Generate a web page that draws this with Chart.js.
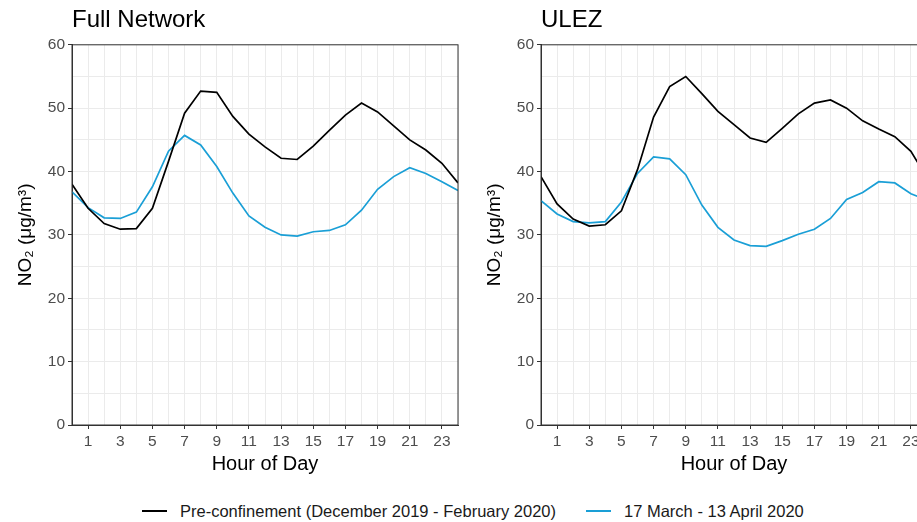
<!DOCTYPE html>
<html>
<head>
<meta charset="utf-8">
<script src="https://cdn.jsdelivr.net/npm/chart.js@4"></script>
<style>
  html, body { margin: 0; padding: 0; background: #fff; overflow: hidden; width: 917px; height: 522px; }
  .panel { position: absolute; top: 0; width: 470px; height: 480px; }
  #legend { position: absolute; left: 142px; top: 500px; height: 22px; display: flex; align-items: center;
            font-family: 'Liberation Sans', Arial, sans-serif; font-size: 16.5px; color: #1a1a1a; white-space: nowrap; }
  .key { display: inline-block; width: 25px; height: 2px; margin-right: 13px; }
</style>
</head>
<body>
<div class="panel" style="left:0"><canvas id="fullChart"></canvas></div>
<div class="panel" style="left:469px"><canvas id="ulezChart"></canvas></div>
<div id="legend">
  <span class="key" style="background:#000"></span><span>Pre-confinement (December 2019 - February 2020)</span>
  <span class="key" style="background:#1a9fd6;margin-left:30px"></span><span>17 March - 13 April 2020</span>
</div>
<script>
// hour of day, 0..24
const hours = [0, 1, 2, 3, 4, 5, 6, 7, 8, 9, 10, 11, 12, 13, 14, 15, 16, 17, 18, 19, 20, 21, 22, 23, 24];
const seriesNames = ['Pre-confinement (December 2019 - February 2020)', '17 March - 13 April 2020'];
const seriesColors = ['#000000', '#1a9fd6'];

// Full Network NO2 (ug/m3)
const fullPre = [38.0, 34.2, 31.8, 30.9, 31.0, 34.2, 41.6, 49.2, 52.7, 52.5, 48.7, 45.9, 43.9, 42.1, 41.9, 44.0, 46.5, 48.9, 50.8, 49.4, 47.2, 45.0, 43.4, 41.3, 38.2];
const fullPost = [36.8, 34.3, 32.7, 32.6, 33.6, 37.6, 43.2, 45.7, 44.2, 40.8, 36.6, 33.0, 31.2, 30.0, 29.8, 30.5, 30.7, 31.6, 33.9, 37.2, 39.2, 40.6, 39.7, 38.4, 37.0];
// ULEZ NO2 (ug/m3)
const ulezPre = [39.2, 34.9, 32.5, 31.4, 31.6, 33.8, 40.3, 48.6, 53.4, 55.0, 52.3, 49.5, 47.4, 45.3, 44.6, 46.8, 49.1, 50.8, 51.3, 50.0, 48.0, 46.7, 45.5, 43.2, 39.0];
const ulezPost = [35.4, 33.3, 32.1, 31.9, 32.1, 35.2, 39.7, 42.3, 42.0, 39.5, 34.7, 31.2, 29.2, 28.3, 28.2, 29.1, 30.1, 30.9, 32.6, 35.6, 36.7, 38.4, 38.2, 36.5, 35.5];

const yTicks = [0, 10, 20, 30, 40, 50, 60];
const xTicks = [1, 3, 5, 7, 9, 11, 13, 15, 17, 19, 21, 23];

const font = "'Liberation Sans', Arial, sans-serif";

// full box around the plot area, like the ggplot panel border
const panelBorder = {
    id: 'panelBorder',
    afterDatasetsDraw(chart) {
        const a = chart.chartArea;
        const ctx = chart.ctx;
        ctx.save();
        ctx.strokeStyle = '#333333';
        ctx.lineWidth = 1;
        ctx.strokeRect(a.left, a.top, a.right - a.left, a.bottom - a.top);
        ctx.restore();
    }
};

function makeChart(canvasId, title, pre, post) {
    const ctx = document.getElementById(canvasId).getContext('2d');
    const series = [pre, post];
    return new Chart(ctx, {
        type: 'line',
        data: {
            datasets: series.map((vals, i) => ({
                label: seriesNames[i],
                data: hours.map((h, j) => ({ x: h, y: vals[j] })),
                borderColor: seriesColors[i],
                borderWidth: 1.7,
                pointRadius: 0,
                tension: 0,
                fill: false
            }))
        },
        options: {
            responsive: false,
            animation: false,
            devicePixelRatio: 1,
            layout: { padding: { top: 0, right: 12, bottom: 0, left: 0 } },
            plugins: {
                legend: { display: false },
                tooltip: { enabled: false },
                title: {
                    display: true,
                    text: title,
                    align: 'start',
                    fullSize: false,
                    color: '#000',
                    font: { family: font, size: 24, weight: 'normal' },
                    padding: { top: 6, bottom: 10 }
                }
            },
            scales: {
                x: {
                    type: 'linear',
                    min: 0,
                    max: 24,
                    afterFit: s => { s.height = 55; },
                    ticks: {
                        stepSize: 1,
                        autoSkip: false,
                        maxRotation: 0,
                        color: '#4d4d4d',
                        padding: 3,
                        font: { family: font, size: 15.5 },
                        callback: v => xTicks.includes(v) ? v : ''
                    },
                    grid: {
                        color: '#ebebeb',
                        tickLength: 4,
                        tickColor: c => xTicks.includes(c.tick.value) ? '#333333' : 'rgba(0,0,0,0)'
                    },
                    border: { color: '#333333' },
                    title: {
                        display: true,
                        text: 'Hour of Day',
                        color: '#000',
                        font: { family: font, size: 20 },
                        padding: { top: 0, bottom: 4 }
                    }
                },
                y: {
                    min: 0,
                    max: 60,
                    afterFit: s => { s.width = 72; },
                    ticks: {
                        stepSize: 5,
                        color: '#4d4d4d',
                        padding: 3,
                        font: { family: font, size: 15.5 },
                        callback: v => yTicks.includes(v) ? v : ''
                    },
                    grid: {
                        color: '#ebebeb',
                        tickLength: 4,
                        tickColor: c => yTicks.includes(c.tick.value) ? '#333333' : 'rgba(0,0,0,0)'
                    },
                    border: { color: '#333333' },
                    title: {
                        display: true,
                        text: 'NO₂ (μg/m³)',
                        color: '#000',
                        font: { family: font, size: 19 },
                        padding: { top: 14, bottom: 0 }
                    }
                }
            }
        },
        plugins: [panelBorder]
    });
}

document.querySelectorAll('canvas').forEach(c => { c.width = 470; c.height = 480; });
makeChart('fullChart', 'Full Network', fullPre, fullPost);
makeChart('ulezChart', 'ULEZ', ulezPre, ulezPost);
</script>
</body>
</html>
